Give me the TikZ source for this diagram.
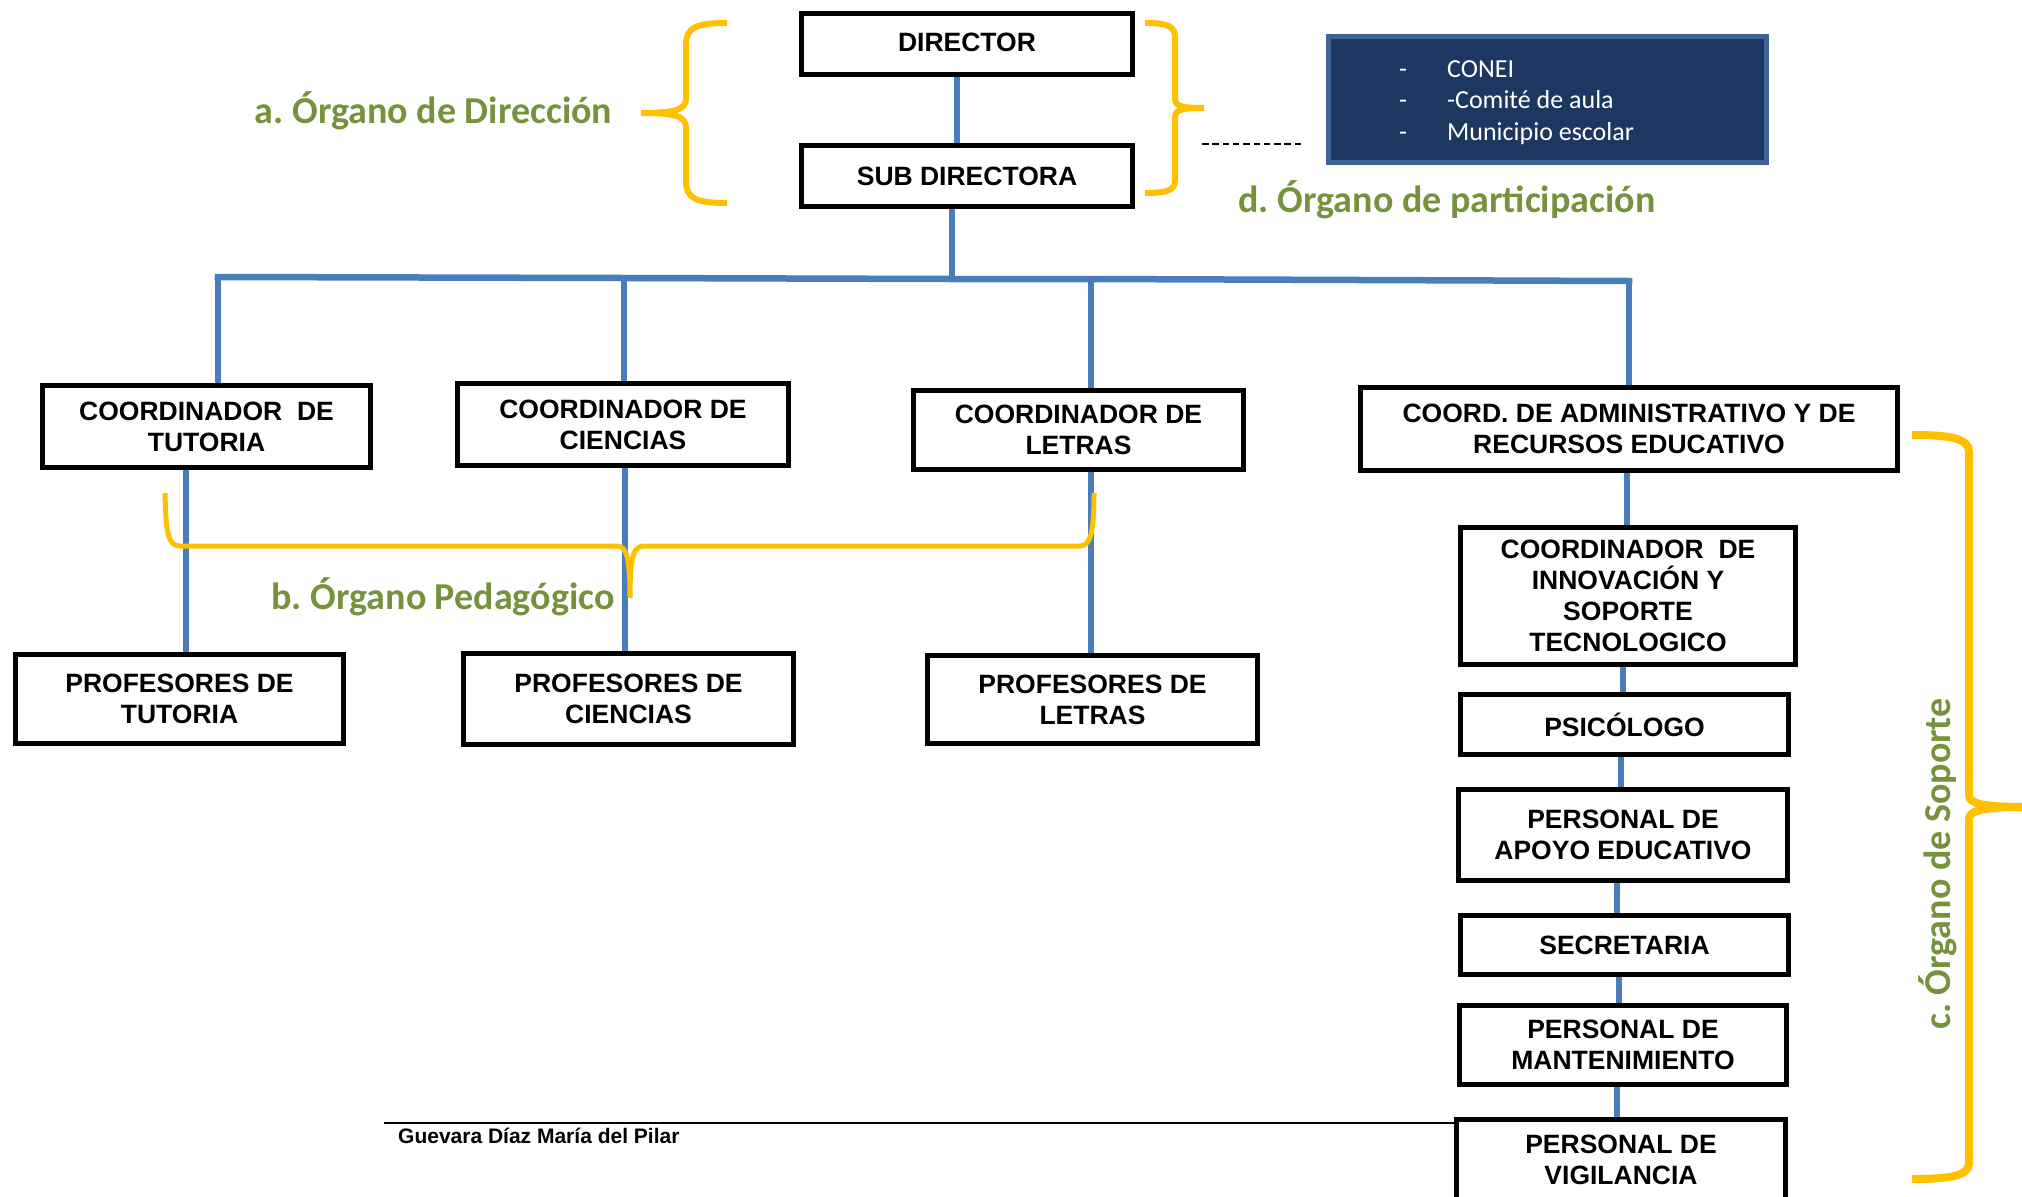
\documentclass[tikz,border=0pt]{standalone}
\usepackage{fontspec}
\setmainfont{Liberation Sans}
\newfontfamily\calfont{Carlito}
\usetikzlibrary{backgrounds}
\definecolor{connblue}{RGB}{74,126,187}
\definecolor{braceyellow}{RGB}{255,192,0}
\definecolor{labelgreen}{RGB}{118,146,60}
\definecolor{navyfill}{RGB}{30,55,96}
\definecolor{navyedge}{RGB}{62,98,148}
\frenchspacing
\begin{document}
\begin{tikzpicture}[x=1pt,y=-1pt,
  orgbox/.style={draw=black, line width=5pt, inner sep=0pt, align=center,
    font=\bfseries\fontsize{26.5}{31}\selectfont},
  conn/.style={draw=connblue, line width=6.5pt},
  bracepath/.style={draw=braceyellow, line width=6pt},
  grlabel/.style={text=labelgreen, inner sep=0pt, anchor=base,
    font=\calfont\bfseries\fontsize{38}{42}\selectfont},
  navytext/.style={text=white, inner sep=0pt, anchor=base west,
    font=\calfont\fontsize{26}{30}\selectfont}
]
\useasboundingbox (0,0) rectangle (2022,1197);
\clip (0,0) rectangle (2022,1197);

% boxes
\node[orgbox, minimum width=331pt, minimum height=61pt] (dir) at (967,44) {\raisebox{3pt}{DIRECTOR}};
\node[orgbox, minimum width=331pt, minimum height=61pt] (sub) at (967,176) {SUB DIRECTORA};
\node[orgbox, minimum width=328pt, minimum height=82pt] (ctut) at (206.5,426.5) {COORDINADOR\ \ DE\\TUTORIA};
\node[orgbox, minimum width=331pt, minimum height=82pt] (ccie) at (623,424.5) {COORDINADOR DE\\CIENCIAS};
\node[orgbox, minimum width=330pt, minimum height=79pt] (clet) at (1078.5,430) {COORDINADOR DE\\LETRAS};
\node[orgbox, minimum width=537pt, minimum height=83pt] (cadm) at (1629,429) {COORD. DE ADMINISTRATIVO Y DE\\RECURSOS EDUCATIVO};
\node[orgbox, minimum width=335pt, minimum height=137pt] (cinn) at (1628,596) {COORDINADOR\ \ DE\\INNOVACIÓN Y\\SOPORTE\\TECNOLOGICO};
\node[orgbox, minimum width=328pt, minimum height=60pt] (psi) at (1624.5,724.5) {PSICÓLOGO};
\node[orgbox, minimum width=329pt, minimum height=91pt] (apo) at (1623,835) {PERSONAL DE\\APOYO EDUCATIVO};
\node[orgbox, minimum width=328pt, minimum height=59pt] (sec) at (1624.5,945) {SECRETARIA};
\node[orgbox, minimum width=327pt, minimum height=79pt] (man) at (1623,1045) {PERSONAL DE\\MANTENIMIENTO};
\node[orgbox, minimum width=329pt, minimum height=81pt] (vig) at (1621,1160) {PERSONAL DE\\VIGILANCIA};
\node[orgbox, minimum width=328pt, minimum height=89pt] (ptut) at (179.5,699) {PROFESORES DE\\TUTORIA};
\node[orgbox, minimum width=330pt, minimum height=91pt] (pcie) at (628.5,699) {PROFESORES DE\\CIENCIAS};
\node[orgbox, minimum width=330pt, minimum height=88pt] (plet) at (1092.5,699.5) {PROFESORES DE\\LETRAS};

% bus coordinates
\coordinate (b1) at (218,277);
\coordinate (b2) at (624,278);
\coordinate (b0) at (952,279);
\coordinate (b3) at (1091,279);
\coordinate (b4) at (1629,281);

\begin{pgfonlayer}{background}
\draw[conn] ([xshift=-10pt]dir.south) -- ([xshift=-10pt]sub.north);
\draw[conn] (sub.south -| b0) -- (b0);
\draw[conn, line cap=rect] (b1) -- (b2) -- (b0) -- (b3) -- (b4);
\draw[conn, line cap=rect] (b1) -- (ctut.north -| b1);
\draw[conn] (b2) -- (ccie.north -| b2);
\draw[conn] (b3) -- (clet.north -| b3);
\draw[conn, line cap=rect] (b4) -- (cadm.north -| b4);
\draw[conn] ([xshift=-20.5pt]ctut.south) -- ([xshift=6.5pt]ptut.north);
\draw[conn] ([xshift=2pt]ccie.south) -- ([xshift=-3.5pt]pcie.north);
\draw[conn] ([xshift=12.5pt]clet.south) -- ([xshift=-1.5pt]plet.north);
\draw[conn] ([xshift=-2pt]cadm.south) -- ([xshift=-1pt]cinn.north);
\draw[conn] ([xshift=-5pt]cinn.south) -- ([xshift=-1.5pt]psi.north);
\draw[conn] ([xshift=-3.5pt]psi.south) -- ([xshift=-2pt]apo.north);
\draw[conn] ([xshift=-6pt]apo.south) -- ([xshift=-7.5pt]sec.north);
\draw[conn] ([xshift=-5.5pt]sec.south) -- ([xshift=-4pt]man.north);
\draw[conn] ([xshift=-6pt]man.south) -- ([xshift=-4pt]vig.north);
\end{pgfonlayer}

% participation box
\node[draw=navyedge, fill=navyfill, line width=5pt, minimum width=438pt, minimum height=126pt, inner sep=0pt] (part) at (1547.5,99.5) {};
\node[navytext] (pd1) at (1399,77) {-};
\node[navytext] (pt1) at (1447,77) {CONEI};
\node[navytext] (pd2) at (1399,108) {-};
\node[navytext] (pt2) at (1447,108) {-Comité de aula};
\node[navytext] (pd3) at (1399,140) {-};
\node[navytext] (pt3) at (1447,140) {Municipio escolar};

% dashed link
\coordinate (dl) at (1202,144);
\coordinate (dr) at (1305,144);
\draw[dash pattern=on 6.5pt off 3.8pt, line width=1.6pt] (dl) -- (dr);

% braces
\draw[bracepath] (727,23) .. controls (695,23) and (686,28) .. (686,45) -- (686,98)
  .. controls (686,110) and (675,113) .. (641,113)
  .. controls (675,113) and (686,116) .. (686,128) -- (686,181)
  .. controls (686,198) and (695,203) .. (727,203);
\draw[bracepath] (1145,23) .. controls (1168,23) and (1175,26) .. (1175,38) -- (1175,98)
  .. controls (1175,106) and (1180,108) .. (1204,108)
  .. controls (1180,108) and (1175,110) .. (1175,118) -- (1175,180)
  .. controls (1175,190) and (1168,193) .. (1145,193);
\draw[bracepath, line width=5pt] (165,493) .. controls (166,530) and (167,546) .. (180,546) -- (615,546)
  .. controls (625,546) and (630,550) .. (630,598)
  .. controls (630,550) and (635,546) .. (645,546) -- (1080,546)
  .. controls (1091,546) and (1094,530) .. (1094,493);
\draw[bracepath, line width=8pt] (1912,435) .. controls (1950,435) and (1969,438) .. (1969,452) -- (1969,795)
  .. controls (1969,803) and (1980,807) .. (2025,807)
  .. controls (1980,807) and (1969,811) .. (1969,819) -- (1969,1163)
  .. controls (1969,1176) and (1950,1179) .. (1912,1179);

% labels
\node[grlabel] (la) at (433.5,123) {a. Órgano de Dirección};
\node[grlabel] (ld) at (1447,212) {d. Órgano de participación};
\node[grlabel] (lb) at (443,609) {b. Órgano Pedagógico};
\node[grlabel, rotate=90] (lc) at (1950,864) {c. Órgano de Soporte};

% footer
\coordinate (fl) at (384,1123);
\draw[line width=2pt] (fl) -- (fl -| vig.west);
\node[anchor=base west, inner sep=0pt, font=\bfseries\fontsize{21}{24}\selectfont] (auth) at (398,1143) {Guevara Díaz María del Pilar};
\end{tikzpicture}
\end{document}
